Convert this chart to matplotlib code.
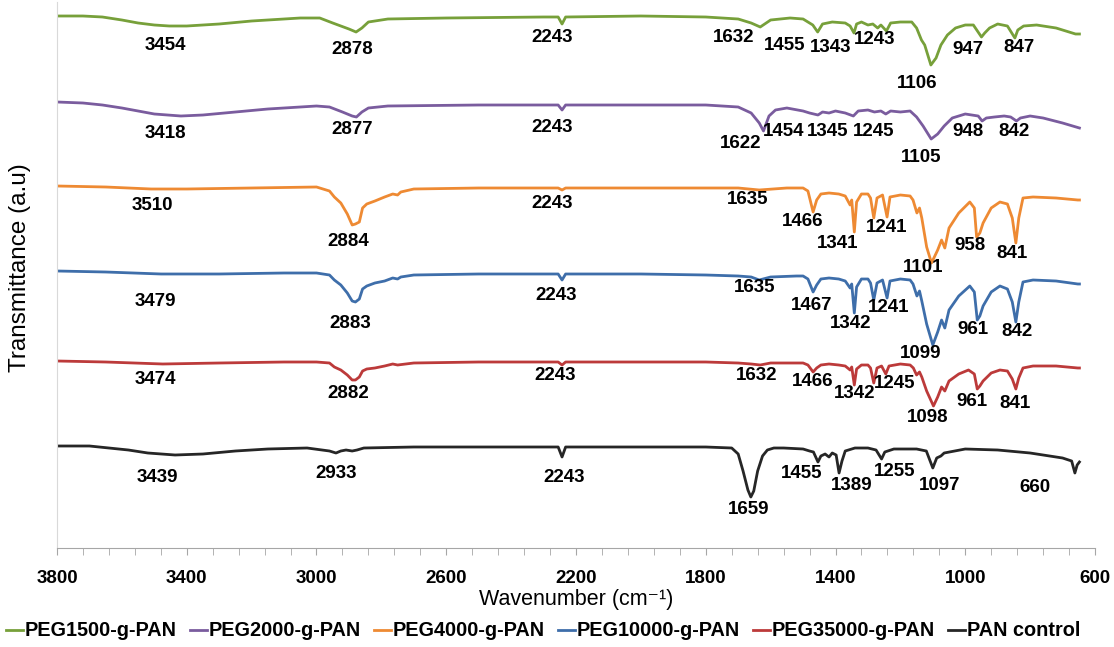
import numpy as np
import matplotlib.pyplot as plt

plt.rcParams['font.family'] = ['Liberation Sans', 'DejaVu Sans']

# FTIR spectra: wavenumber (cm-1) and transmittance
# relative to each spectrum's own baseline (a.u.), stacked with offsets
wn_1500 = [3800, 3720, 3660, 3600, 3550, 3500, 3454, 3400, 3300, 3200, 3100, 3050, 2990, 2950, 2900, 2878, 2860,
           2840, 2780, 2600, 2300, 2255, 2243, 2232, 2000, 1800, 1700, 1660, 1632, 1600, 1540, 1500, 1470, 1455,
           1440, 1410, 1370, 1355, 1343, 1335, 1320, 1300, 1285, 1270, 1260, 1243, 1230, 1200, 1165, 1150, 1135,
           1125, 1106, 1090, 1075, 1055, 1030, 1000, 975, 950, 940, 925, 900, 870, 847, 838, 820, 780, 720, 680,
           660, 648]
t_1500 = [0, 0, -1, -4, -7, -9, -10, -10, -8, -5, -3, -2, -2, -7, -13, -16, -12,
          -6, -3, -2, -1, -1, -8, -1, 0, -1, -3, -7, -11, -4, -2, -3, -9, -16,
          -8, -6, -7, -10, -17, -8, -6, -9, -8, -12, -9, -15, -7, -6, -6, -12, -24,
          -29, -49, -42, -29, -19, -12, -9, -9, -21, -17, -12, -8, -10, -22, -14, -10, -9, -12, -16,
          -18, -18]

wn_2000 = [3800, 3720, 3660, 3600, 3550, 3500, 3418, 3350, 3250, 3150, 3050, 3000, 2960, 2920, 2890, 2877, 2860,
           2840, 2780, 2500, 2255, 2243, 2232, 2000, 1800, 1700, 1660, 1635, 1622, 1605, 1585, 1550, 1500, 1480,
           1454, 1440, 1420, 1400, 1370, 1345, 1330, 1300, 1280, 1260, 1245, 1230, 1200, 1170, 1150, 1130, 1105,
           1085, 1065, 1040, 1020, 1000, 980, 960, 948, 935, 910, 880, 860, 842, 830, 800, 760, 700, 648]
t_2000 = [1, 0, -2, -5, -8, -11, -13, -12, -9, -6, -4, -3, -4, -9, -13, -14, -9,
          -5, -3, -2, -2, -7, -2, -2, -2, -4, -10, -20, -28, -13, -7, -5, -8, -10,
          -12, -9, -10, -8, -10, -13, -8, -7, -9, -8, -11, -8, -9, -8, -14, -23, -36,
          -31, -23, -15, -13, -11, -12, -13, -18, -15, -14, -13, -14, -18, -15, -13, -15, -20, -25]

wn_4000 = [3800, 3650, 3510, 3400, 3200, 3000, 2960, 2945, 2925, 2905, 2890, 2880, 2868, 2858, 2845, 2820, 2790,
           2765, 2750, 2740, 2700, 2500, 2255, 2243, 2232, 2000, 1800, 1700, 1635, 1550, 1500, 1485, 1469, 1458,
           1445, 1420, 1390, 1370, 1355, 1350, 1342, 1335, 1320, 1300, 1292, 1282, 1272, 1255, 1241, 1232, 1200,
           1170, 1161, 1149, 1141, 1134, 1119, 1104, 1085, 1073, 1063, 1050, 1020, 986, 972, 965, 955, 945, 920,
           893, 870, 855, 844, 835, 822, 791, 720, 653, 648]
t_4000 = [2, 1, -1, -1, 0, 1, -3, -9, -15, -26, -37, -36, -34, -20, -16, -13, -9,
          -6, -7, -4, -1, 0, 0, -2, 0, 0, 0, 0, -2, 0, 0, -3, -24, -12,
          -6, -5, -6, -8, -17, -12, -44, -14, -6, -6, -10, -30, -10, -7, -29, -9, -7,
          -8, -12, -25, -20, -30, -59, -75, -62, -52, -60, -40, -25, -14, -20, -49, -45, -35, -20,
          -14, -16, -30, -55, -30, -10, -9, -10, -12, -12]

wn_10000 = [3800, 3650, 3479, 3300, 3100, 3000, 2960, 2945, 2925, 2905, 2890, 2880, 2868, 2858, 2845, 2820, 2790,
            2765, 2750, 2740, 2700, 2500, 2255, 2243, 2232, 2000, 1800, 1700, 1660, 1635, 1600, 1520, 1500, 1485,
            1469, 1458, 1445, 1420, 1390, 1370, 1355, 1350, 1342, 1335, 1320, 1300, 1292, 1282, 1272, 1255, 1241,
            1232, 1200, 1170, 1161, 1149, 1141, 1134, 1119, 1100, 1085, 1073, 1063, 1050, 1020, 986, 972, 963, 955,
            945, 920, 893, 870, 855, 844, 835, 822, 791, 720, 653, 648]
t_10000 = [3, 2, 0, 0, 1, 1, -1, -6, -11, -19, -27, -28, -25, -15, -12, -9, -7,
           -4, -5, -3, -1, 0, 0, -6, 0, 0, -1, -2, -3, -6, -3, -2, -2, -5,
           -18, -11, -5, -4, -5, -7, -14, -10, -39, -13, -5, -5, -9, -26, -9, -6, -24,
           -7, -5, -6, -10, -22, -17, -27, -50, -71, -58, -46, -54, -36, -22, -12, -18, -46, -42,
           -32, -18, -12, -15, -28, -48, -28, -8, -6, -7, -10, -10]

wn_35000 = [3800, 3650, 3474, 3300, 3100, 3000, 2960, 2945, 2925, 2905, 2890, 2880, 2868, 2858, 2845, 2820, 2790,
            2765, 2750, 2700, 2500, 2255, 2243, 2232, 2000, 1800, 1700, 1660, 1632, 1600, 1520, 1500, 1485, 1469,
            1458, 1445, 1420, 1390, 1370, 1355, 1350, 1342, 1335, 1320, 1300, 1292, 1282, 1272, 1258, 1245, 1235,
            1200, 1170, 1160, 1150, 1141, 1134, 1119, 1098, 1085, 1073, 1063, 1050, 1020, 990, 972, 963, 955, 945,
            920, 893, 870, 855, 844, 835, 822, 791, 720, 653, 648]
t_35000 = [0, -1, -3, -2, -1, -1, -2, -6, -9, -14, -19, -19, -16, -10, -8, -7, -5,
           -3, -4, -2, -1, -1, -4, -1, -1, -1, -2, -3, -4, -2, -2, -2, -4, -11,
           -7, -4, -3, -4, -5, -9, -6, -24, -8, -4, -4, -7, -22, -7, -5, -13, -5,
           -3, -4, -7, -14, -11, -16, -30, -45, -36, -26, -30, -20, -13, -9, -13, -28, -25, -20,
           -12, -9, -10, -18, -28, -17, -7, -5, -5, -7, -7]

wn_pan = [3800, 3700, 3640, 3580, 3520, 3436, 3350, 3250, 3150, 3029, 2960, 2940, 2925, 2909, 2890, 2875, 2854,
          2700, 2500, 2255, 2243, 2232, 2000, 1800, 1720, 1700, 1685, 1670, 1661, 1652, 1640, 1625, 1610, 1590,
          1560, 1500, 1480, 1468, 1454, 1445, 1432, 1420, 1410, 1398, 1389, 1380, 1370, 1340, 1300, 1275, 1258,
          1248, 1220, 1150, 1120, 1100, 1088, 1075, 1065, 1000, 900, 800, 700, 672, 662, 655, 648]
t_pan = [0, 0, -2, -4, -7, -9, -8, -5, -3, -2, -5, -7, -5, -4, -5, -4, -2,
         -1, -1, -1, -11, -1, -1, -1, -2, -8, -25, -44, -51, -45, -25, -10, -4, -2,
         -2, -3, -5, -6, -16, -10, -8, -11, -7, -9, -27, -15, -5, -2, -2, -4, -13,
         -6, -3, -3, -5, -22, -12, -10, -7, -3, -4, -7, -12, -15, -27, -19, -16]

names = ['PEG1500-g-PAN', 'PEG2000-g-PAN', 'PEG4000-g-PAN', 'PEG10000-g-PAN', 'PEG35000-g-PAN', 'PAN control']
offsets = [532, 445, 360, 274, 187, 102]
colors = ['#77A03A', '#7A5C9E', '#EE8A33', '#3E6EAA', '#BC3A3A', '#262626']
spectra = [(wn_1500, t_1500), (wn_2000, t_2000), (wn_4000, t_4000),
           (wn_10000, t_10000), (wn_35000, t_35000), (wn_pan, t_pan)]

# peak labels: (text, wavenumber, transmittance) in data units
peak_labels = [
    [('3454', 3467, 503), ('2878', 2891, 498), ('2243', 2274, 510), ('1632', 1713, 510), ('1455', 1556, 503),
     ('1343', 1414, 501), ('1243', 1278, 509), ('1106', 1149, 465), ('947', 992, 498), ('847', 834, 500)],
    [('3418', 3467, 415), ('2877', 2891, 419), ('2243', 2274, 421), ('1622', 1691, 405), ('1454', 1559, 416),
     ('1345', 1423, 416), ('1245', 1281, 417), ('1105', 1136, 391), ('948', 992, 416), ('842', 850, 416)],
    [('3510', 3507, 343), ('2884', 2903, 307), ('2243', 2274, 345), ('1635', 1670, 348), ('1466', 1500, 326),
     ('1341', 1392, 305), ('1241', 1241, 321), ('1101', 1130, 280), ('958', 985, 303), ('841', 856, 294)],
    [('3479', 3498, 247), ('2883', 2897, 225), ('2243', 2262, 252), ('1635', 1648, 260), ('1467', 1475, 242),
     ('1342', 1352, 225), ('1241', 1235, 241), ('1099', 1139, 195), ('961', 976, 219), ('842', 840, 217)],
    [('3474', 3498, 168), ('2882', 2903, 154), ('2243', 2265, 172), ('1632', 1642, 172), ('1466', 1472, 166),
     ('1342', 1340, 155), ('1245', 1217, 165), ('1098', 1115, 130), ('961', 979, 146), ('841', 847, 145)],
    [('3439', 3492, 71), ('2933', 2940, 74), ('2243', 2237, 71), ('1659', 1667, 38), ('1455', 1503, 75),
     ('1389', 1349, 63), ('1255', 1217, 76), ('1097', 1078, 63), ('660', 785, 61)],
]

fig = plt.figure(figsize=(11.14, 6.47), dpi=100)
ax = fig.add_axes([57 / 1114, 99 / 647, 1038 / 1114, 546 / 647])

for (wn, t), off, c, name in zip(spectra, offsets, colors, names):
    ax.plot(wn, np.array(t) + off, color=c, lw=2, label=name)

for labs in peak_labels:
    for txt, x, y in labs:
        ax.text(x, y, txt, ha='center', va='center', fontsize=13.5, fontweight='bold', color='black')

ax.set_xlim(3800, 600)
ax.set_ylim(0, 546)
ax.set_xticks(np.arange(3800, 599, -400))
ax.set_xticks(np.arange(3800, 599, -80), minor=True)
ax.set_yticks([])
ax.tick_params(axis='x', which='both', direction='out', length=5, color='#a6a6a6', pad=11)
for lab in ax.get_xticklabels():
    lab.set_fontweight('bold')
    lab.set_fontsize(13.5)
for s in ['top', 'right']:
    ax.spines[s].set_visible(False)
ax.spines['left'].set_color('#d9d9d9')
ax.spines['bottom'].set_color('#a6a6a6')

ax.set_xlabel('Wavenumber (cm⁻¹)', fontsize=15.5, labelpad=1)
fig.text(0.018, 1 - 268 / 647, 'Transmittance (a.u)', rotation=90, ha='center', va='center', fontsize=17.5)

fig.legend(loc='center', bbox_to_anchor=(543 / 1114, 16 / 647), ncol=6, frameon=False,
           prop={'weight': 'bold', 'size': 14.3}, handlelength=0.85, handletextpad=0.1, columnspacing=0.65)

fig.savefig('out.png', dpi=100)
